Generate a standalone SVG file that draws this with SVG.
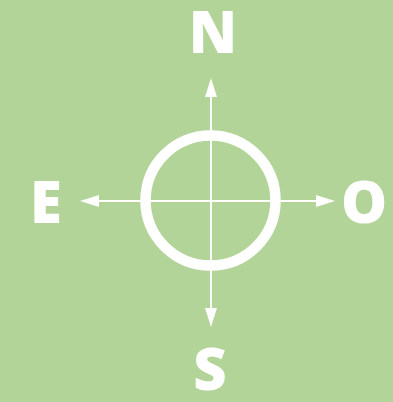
<svg xmlns="http://www.w3.org/2000/svg" width="393" height="402" viewBox="0 0 393 402">
<defs>
<style>
.lbl{font-family:"Open Sans","Liberation Sans",sans-serif;font-weight:800;font-size:58px;fill:#fff;text-anchor:middle}
.ax{stroke:#fff;stroke-width:2;fill:none}
.head{fill:#fff}
</style>
</defs>
<rect width="393" height="402" fill="#b2d498"/>
<g id="connectors">
<line class="ax" x1="211" y1="201" x2="211" y2="97"/>
<polygon class="head" points="211,78 205,97 217,97"/>
<line class="ax" x1="211" y1="201" x2="211" y2="308"/>
<polygon class="head" points="211,327 205,308 217,308"/>
<line class="ax" x1="211" y1="201" x2="98" y2="201"/>
<polygon class="head" points="80,201 99,195 99,207"/>
<line class="ax" x1="211" y1="201" x2="317" y2="201"/>
<polygon class="head" points="335,201 316,195 316,207"/>
</g>
<g id="compass">
<circle cx="210.5" cy="200.5" r="65" fill="none" stroke="#fff" stroke-width="10.5"/>
</g>
<g id="north"><text class="lbl" x="213" y="53">N</text></g>
<g id="east"><text class="lbl" x="46" y="223">E</text></g>
<g id="west"><text class="lbl" x="364" y="223">O</text></g>
<g id="south"><text class="lbl" x="210" y="390">S</text></g>
</svg>
